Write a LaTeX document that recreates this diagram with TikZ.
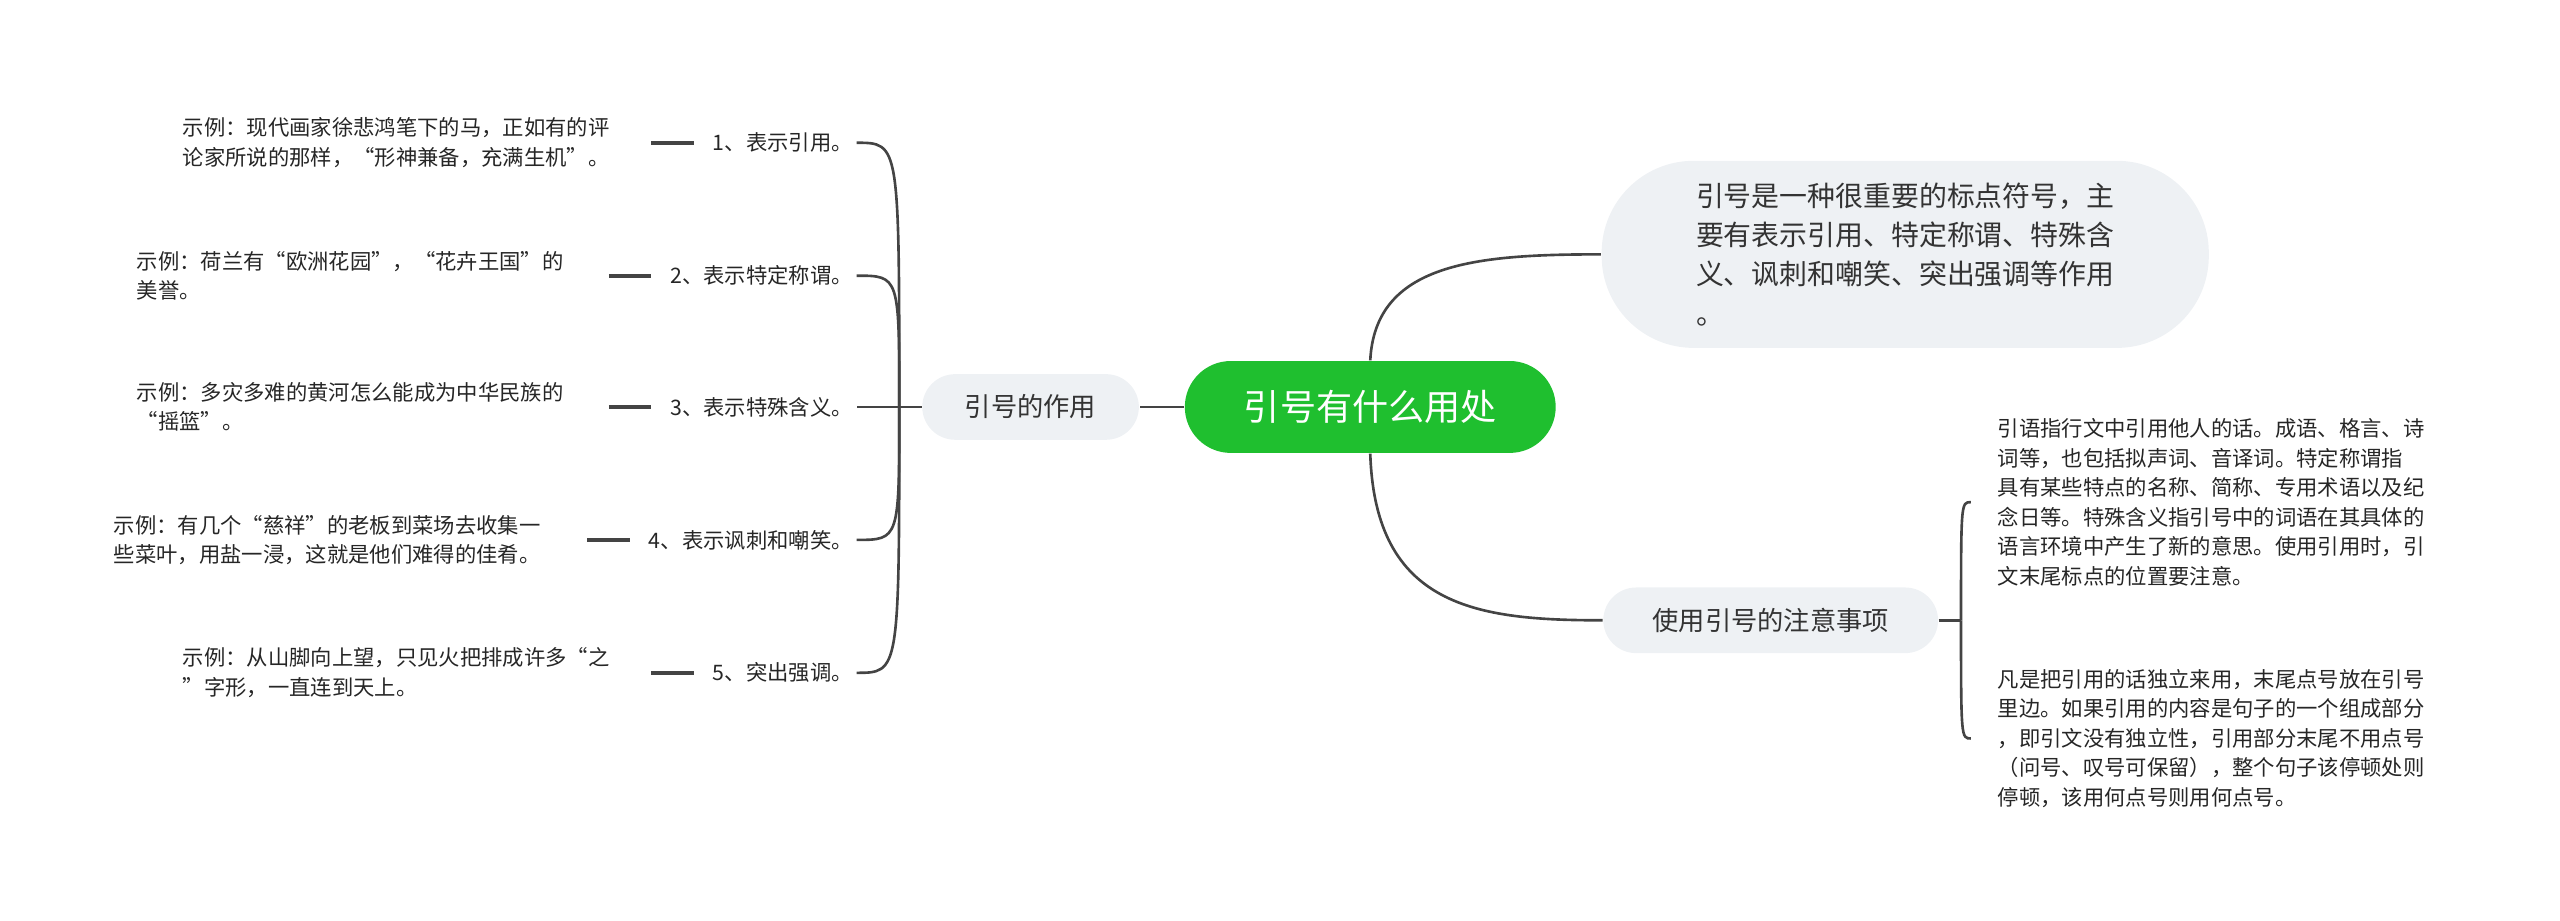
\documentclass[tikz,border=0pt]{standalone}
\usepackage{fontspec}
\setmainfont{Noto Sans CJK SC}
\usetikzlibrary{positioning}
\definecolor{rootgreen}{HTML}{1FBF2F}
\definecolor{pillgray}{HTML}{EEF1F4}
\definecolor{linegray}{HTML}{444444}
\begin{document}
\begin{tikzpicture}[x=0.5pt,y=-0.5pt,
        rootbox/.style={rectangle, rounded corners=14pt, fill=rootgreen, text=white, font=\fontsize{11}{13}\selectfont, minimum width=113pt, minimum height=28pt},
        pill/.style={rectangle, rounded corners=10pt, fill=pillgray, text=black!80, font=\fontsize{8}{10}\selectfont, minimum height=20pt, inner xsep=10pt},
        item/.style={font=\fontsize{6.5}{8}\selectfont, text=black!85, inner sep=1pt},
        note/.style={font=\fontsize{6.5}{9}\selectfont, text=black!85, align=left, inner sep=1pt},
        link/.style={draw=linegray, line width=0.8pt}
    ]
        \useasboundingbox (0,0) rectangle (1560,561);
        \node[rootbox] (root) at (835,248) {引号有什么用处};
        \node[pill, minimum width=66pt] (use) at (628,248) {引号的作用};
        \node[pill, rounded corners=28pt, align=left, minimum height=57pt, minimum width=185pt, inner xsep=28pt, font=\fontsize{8.5}{12}\selectfont] (intro) at (1161,155) {引号是一种很重要的标点符号，主\\要有表示引用、特定称谓、特殊含\\义、讽刺和嘲笑、突出强调等作用\\。};
        \node[pill, minimum width=102pt] (care) at (1079,378) {使用引号的注意事项};

        % left items
        \node[item, anchor=east] (i1) at (522,87) {1、表示引用。};
        \node[item, anchor=east] (i2) at (522,168) {2、表示特定称谓。};
        \node[item, anchor=east] (i3) at (522,248) {3、表示特殊含义。};
        \node[item, anchor=east] (i4) at (522,329) {4、表示讽刺和嘲笑。};
        \node[item, anchor=east] (i5) at (522,410) {5、突出强调。};

        \node[note, anchor=west] (e1) at (109,87) {示例：现代画家徐悲鸿笔下的马，正如有的评\\论家所说的那样，“形神兼备，充满生机”。};
        \node[note, anchor=west] (e2) at (81,168) {示例：荷兰有“欧洲花园”，“花卉王国”的\\美誉。};
        \node[note, anchor=west] (e3) at (81,248) {示例：多灾多难的黄河怎么能成为中华民族的\\“摇篮”。};
        \node[note, anchor=west] (e4) at (67,329) {示例：有几个“慈祥”的老板到菜场去收集一\\些菜叶，用盐一浸，这就是他们难得的佳肴。};
        \node[note, anchor=west] (e5) at (109,410) {示例：从山脚向上望，只见火把排成许多“之\\”字形，一直连到天上。};

        % right notes
        \node[note, anchor=west] (n1) at (1215,306) {引语指行文中引用他人的话。成语、格言、诗\\词等，也包括拟声词、音译词。特定称谓指\\具有某些特点的名称、简称、专用术语以及纪\\念日等。特殊含义指引号中的词语在其具体的\\语言环境中产生了新的意思。使用引用时，引\\文末尾标点的位置要注意。};
        \node[note, anchor=west] (n2) at (1215,450) {凡是把引用的话独立来用，末尾点号放在引号\\里边。如果引用的内容是句子的一个组成部分\\，即引文没有独立性，引用部分末尾不用点号\\（问号、叹号可保留），整个句子该停顿处则\\停顿，该用何点号则用何点号。};

        \draw[link] (root.west) -- (use.east);
        \draw[link] (root.north) .. controls (838,160) and (900,155) .. (intro.west);
        \draw[link] (root.south) .. controls (838,370) and (900,378) .. (care.west);

        \coordinate (hubl) at (548,248);
        \draw[link] (use.west) -- (hubl);
        \foreach \k in {1,...,5}{
            \draw[link] (hubl) .. controls (hubl |- i\k.east) .. (i\k.east);
            \draw[link, line width=1.2pt] ([xshift=-17.5pt]i\k.west) -- ([xshift=-4.5pt]i\k.west);
        }
        \coordinate (hubr) at (1195,378);
        \draw[link] (care.east) -- (hubr);
        \foreach \k in {1,2}{
            \draw[link] (hubr) .. controls (hubr |- n\k.west) .. ([xshift=3pt]hubr |- n\k.west);
        }
\end{tikzpicture}
\end{document}
